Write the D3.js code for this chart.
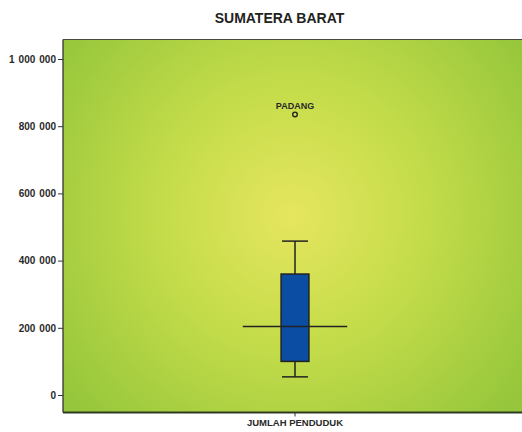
<!DOCTYPE html>
<html>
<head>
<meta charset="utf-8">
<script src="https://cdn.jsdelivr.net/npm/d3@7"></script>
<style>
  html, body { margin: 0; padding: 0; background: #ffffff; }
  svg { display: block; font-family: "Liberation Sans", Arial, sans-serif; }
</style>
</head>
<body>
<svg id="chart" width="522" height="432"></svg>
<script>
// ---- data ----
const title = "SUMATERA BARAT";
const categories = ["JUMLAH PENDUDUK"];
const whiskerLow = [54000];
const q1 = [100000];
const median = [204000];
const q3 = [360000];
const whiskerHigh = [458000];
const outlierCategory = ["JUMLAH PENDUDUK"];
const outlierValues = [835000];
const outlierLabels = ["PADANG"];
const yTicks = [0, 200000, 400000, 600000, 800000, 1000000];

// ---- layout ----
const svg = d3.select("#chart");
const plot = { left: 63, right: 527, top: 39.5, bottom: 412.5 };

const x = d3.scaleBand().domain(categories).range([plot.left, plot.right]);
const y = d3.scaleLinear().domain([0, 1000000]).range([395, 59]);

const fmt = v => d3.format(",")(v).replace(/,/g, "\u2009\u2009");

// background gradient
const defs = svg.append("defs");
const grad = defs.append("radialGradient")
  .attr("id", "bg")
  .attr("gradientUnits", "userSpaceOnUse")
  .attr("cx", 292).attr("cy", 215).attr("r", 290);
grad.append("stop").attr("offset", "0%").attr("stop-color", "#e6e65e");
grad.append("stop").attr("offset", "45%").attr("stop-color", "#c4dc4a");
grad.append("stop").attr("offset", "100%").attr("stop-color", "#95c63b");

svg.append("rect")
  .attr("x", plot.left).attr("y", plot.top)
  .attr("width", plot.right - plot.left).attr("height", plot.bottom - plot.top)
  .attr("fill", "url(#bg)");

// frame
svg.append("line").attr("x1", plot.left).attr("x2", plot.right)
  .attr("y1", plot.top).attr("y2", plot.top)
  .attr("stroke", "#4a4a40").attr("stroke-width", 1.2);

// title
svg.append("text")
  .attr("x", 279.5).attr("y", 23.3)
  .attr("text-anchor", "middle")
  .attr("font-size", 14).attr("font-weight", "bold").attr("fill", "#222")
  .text(title);

// y axis
const yAxis = d3.axisLeft(y).tickValues(yTicks).tickFormat(fmt).tickSize(5).tickPadding(2);
const gy = svg.append("g").attr("transform", `translate(${plot.left},0)`).call(yAxis);
gy.select(".domain").remove();
gy.selectAll(".tick line").attr("stroke", "#333").attr("stroke-width", 1);
gy.selectAll(".tick text").attr("font-size", 10).attr("font-weight", "bold").attr("fill", "#2a2a2a")
  .attr("font-family", "Liberation Sans, Arial, sans-serif");
svg.append("line").attr("x1", plot.left).attr("x2", plot.left)
  .attr("y1", plot.top).attr("y2", plot.bottom)
  .attr("stroke", "#333").attr("stroke-width", 1.3);

// x axis
const xAxis = d3.axisBottom(x).tickSize(4).tickPadding(3);
const gx = svg.append("g").attr("transform", `translate(0,${plot.bottom})`).call(xAxis);
gx.select(".domain").remove();
gx.selectAll(".tick line").attr("stroke", "#333");
gx.selectAll(".tick text").attr("font-size", 9.5).attr("font-weight", "bold").attr("fill", "#2a2a2a")
  .attr("font-family", "Liberation Sans, Arial, sans-serif");
svg.append("line").attr("x1", plot.left).attr("x2", plot.right)
  .attr("y1", plot.bottom).attr("y2", plot.bottom)
  .attr("stroke", "#2f3a20").attr("stroke-width", 2);

// boxes
const bw = x.bandwidth();
const g = svg.append("g");
categories.forEach((c, i) => {
  const cx = x(c) + bw / 2;
  const boxW = bw * 0.06;
  const capW = bw * 0.056;
  const medW = bw * 0.225;
  // stem
  g.append("line").attr("x1", cx).attr("x2", cx)
    .attr("y1", y(whiskerHigh[i])).attr("y2", y(whiskerLow[i]))
    .attr("stroke", "#222").attr("stroke-width", 1.5);
  // caps
  [whiskerHigh[i], whiskerLow[i]].forEach(v => {
    g.append("line").attr("x1", cx - capW / 2).attr("x2", cx + capW / 2)
      .attr("y1", y(v)).attr("y2", y(v))
      .attr("stroke", "#222").attr("stroke-width", 1.5);
  });
  // box
  g.append("rect")
    .attr("x", cx - boxW / 2).attr("width", boxW)
    .attr("y", y(q3[i])).attr("height", y(q1[i]) - y(q3[i]))
    .attr("fill", "#0b4da3").attr("stroke", "#222").attr("stroke-width", 1.5);
  // median
  g.append("line").attr("x1", cx - medW / 2).attr("x2", cx + medW / 2)
    .attr("y1", y(median[i])).attr("y2", y(median[i]))
    .attr("stroke", "#222").attr("stroke-width", 1.5);
});

// outliers
outlierValues.forEach((v, i) => {
  const cx = x(outlierCategory[i]) + bw / 2;
  g.append("circle").attr("cx", cx).attr("cy", y(v)).attr("r", 2.3)
    .attr("fill", "none").attr("stroke", "#222").attr("stroke-width", 1.4);
  g.append("text").attr("x", cx).attr("y", y(v) - 5.6)
    .attr("text-anchor", "middle").attr("font-size", 9).attr("font-weight", "bold").attr("fill", "#2a2a2a")
    .text(outlierLabels[i]);
});
</script>
</body>
</html>
